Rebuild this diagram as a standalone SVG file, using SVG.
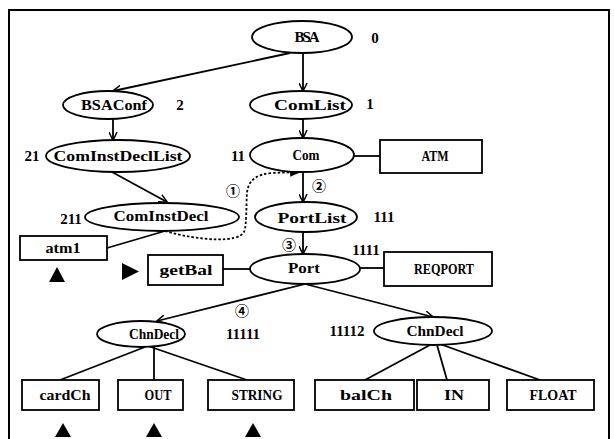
<svg xmlns="http://www.w3.org/2000/svg" width="614" height="439" viewBox="0 0 614 439">
<defs>
<marker id="open" viewBox="0 0 10 10" refX="9" refY="5" markerWidth="9" markerHeight="9" orient="auto" markerUnits="userSpaceOnUse">
<path d="M0,0.5 L9.5,5 L0,9.5" fill="none" stroke="#000" stroke-width="1.6"/>
</marker>
<marker id="solid" viewBox="0 0 10 10" refX="9" refY="5" markerWidth="11" markerHeight="11" orient="auto" markerUnits="userSpaceOnUse">
<path d="M0,1 L10,5 L0,9 Z" fill="#000"/>
</marker>
<style>
.n ellipse,.n rect{fill:#fff;stroke:#000;stroke-width:1.8}
text{font-family:"Liberation Serif","Times New Roman",serif;font-weight:bold;font-size:15px;fill:#000;text-anchor:middle;dominant-baseline:central}
.c{font-family:"Noto Sans CJK SC","DejaVu Sans",sans-serif;font-weight:bold;font-size:14px}
.e line,.e path{stroke:#000;stroke-width:1.8;fill:none}
.arr{marker-end:url(#open)}
.tri{fill:#000}
</style>
</defs>
<rect x="9" y="10" width="600" height="440" fill="#fff" stroke="#000" stroke-width="2"/>
<g id="connectors" class="e">
<line class="arr" x1="290" y1="53" x2="113" y2="91"/>
<line class="arr" x1="303" y1="53" x2="303" y2="91"/>
<line class="arr" x1="113" y1="119" x2="113" y2="140"/>
<line class="arr" x1="303" y1="119" x2="303" y2="138"/>
<line class="arr" x1="112" y1="172" x2="167" y2="202"/>
<line class="arr" x1="303" y1="172" x2="303" y2="202"/>
<line class="arr" x1="303" y1="232" x2="303" y2="254"/>
<line class="arr" x1="305" y1="284" x2="157" y2="321"/>
<line class="arr" x1="305" y1="284" x2="433" y2="317"/>
<line x1="354" y1="156" x2="380" y2="156"/>
<line x1="360" y1="268" x2="384" y2="268"/>
<line x1="223" y1="269" x2="250" y2="269"/>
<line x1="107" y1="248" x2="165" y2="231"/>
<path d="M165,231 C200,241 238,243 244,232 C247,225 246,205 247,193 C248,181 256,174 272,173 L300,172" stroke-dasharray="2.5,2" marker-end="url(#solid)"/>
<line x1="145" y1="347" x2="60" y2="380"/>
<line x1="154" y1="347" x2="154" y2="380"/>
<line x1="148" y1="346" x2="247" y2="380"/>
<line x1="430" y1="345" x2="365" y2="380"/>
<line x1="437" y1="345" x2="447" y2="380"/>
<line x1="440" y1="344" x2="540" y2="380"/>
</g>
<g id="BSA" class="n"><ellipse cx="302" cy="37" rx="50" ry="16"/><text x="307" y="37" textLength="25">BSA</text><text x="375" y="38">0</text></g>
<g id="BSAConf" class="n"><ellipse cx="108" cy="105" rx="45" ry="14"/><text x="114" y="105" textLength="66" lengthAdjust="spacingAndGlyphs">BSAConf</text><text x="180" y="105">2</text></g>
<g id="ComList" class="n"><ellipse cx="301" cy="105" rx="51" ry="14"/><text x="310" y="105" textLength="72" lengthAdjust="spacingAndGlyphs">ComList</text><text x="370" y="104">1</text></g>
<g id="ComInstDeclList" class="n"><ellipse cx="118" cy="156" rx="72" ry="16"/><text x="118" y="156" textLength="129" lengthAdjust="spacingAndGlyphs">ComInstDeclList</text><text x="32" y="156">21</text></g>
<g id="Com" class="n"><ellipse cx="302" cy="155" rx="52" ry="17"/><text x="306" y="155" textLength="27" lengthAdjust="spacingAndGlyphs">Com</text><text x="238" y="156">11</text></g>
<g id="ATM" class="n"><rect x="380" y="140" width="102" height="33"/><text x="435" y="156" textLength="27" lengthAdjust="spacingAndGlyphs">ATM</text></g>
<g id="ComInstDecl" class="n"><ellipse cx="162" cy="217" rx="77" ry="14"/><text x="161" y="216" textLength="95" lengthAdjust="spacingAndGlyphs">ComInstDecl</text><text x="71" y="219">211</text></g>
<g id="PortList" class="n"><ellipse cx="306" cy="217" rx="51" ry="15"/><text x="312" y="218" textLength="69" lengthAdjust="spacingAndGlyphs">PortList</text><text x="384" y="217">111</text></g>
<g id="atm1" class="n"><rect x="20" y="236" width="87" height="24"/><text x="63" y="248" textLength="35" lengthAdjust="spacingAndGlyphs">atm1</text></g>
<g id="getBal" class="n"><rect x="148" y="255" width="75" height="30"/><text x="186" y="270" textLength="53" lengthAdjust="spacingAndGlyphs">getBal</text></g>
<g id="Port" class="n"><ellipse cx="305" cy="269" rx="55" ry="15"/><text x="304" y="268" textLength="32" lengthAdjust="spacingAndGlyphs">Port</text><text x="366" y="250">1111</text></g>
<g id="REQPORT" class="n"><rect x="384" y="252" width="108" height="34"/><text x="444" y="269" textLength="60" lengthAdjust="spacingAndGlyphs">REQPORT</text></g>
<g id="ChnDecl1" class="n"><ellipse cx="141" cy="334" rx="44" ry="13"/><text x="154" y="334" textLength="50" lengthAdjust="spacingAndGlyphs">ChnDecl</text><text x="243" y="334">11111</text></g>
<g id="ChnDecl2" class="n"><ellipse cx="433" cy="331" rx="59" ry="14"/><text x="435" y="331" textLength="57" lengthAdjust="spacingAndGlyphs">ChnDecl</text><text x="347" y="331">11112</text></g>
<g id="cardCh" class="n"><rect x="22" y="380" width="77" height="30"/><text x="65" y="395" textLength="51" lengthAdjust="spacingAndGlyphs">cardCh</text></g>
<g id="OUT" class="n"><rect x="118" y="380" width="65" height="30"/><text x="158" y="395" textLength="27" lengthAdjust="spacingAndGlyphs">OUT</text></g>
<g id="STRING" class="n"><rect x="208" y="380" width="86" height="30"/><text x="257" y="395" textLength="51" lengthAdjust="spacingAndGlyphs">STRING</text></g>
<g id="balCh" class="n"><rect x="315" y="380" width="99" height="30"/><text x="366" y="395" textLength="52" lengthAdjust="spacingAndGlyphs">balCh</text></g>
<g id="IN" class="n"><rect x="417" y="380" width="72" height="30"/><text x="454" y="395" textLength="20" lengthAdjust="spacingAndGlyphs">IN</text></g>
<g id="FLOAT" class="n"><rect x="507" y="380" width="87" height="30"/><text x="553" y="395" textLength="47" lengthAdjust="spacingAndGlyphs">FLOAT</text></g>
<g id="marks">
<text class="c" x="233" y="190">①</text>
<text class="c" x="319" y="185">②</text>
<text class="c" x="289" y="244">③</text>
<text class="c" x="242" y="310">④</text>
<polygon class="tri" points="49,282 57,267 65,282"/>
<polygon class="tri" points="122,263 139,271.5 122,280"/>
<polygon class="tri" points="55,437 63,423 71,437"/>
<polygon class="tri" points="146,437 154,423 162,437"/>
<polygon class="tri" points="245,437 253,423 261,437"/>
</g>
</svg>
